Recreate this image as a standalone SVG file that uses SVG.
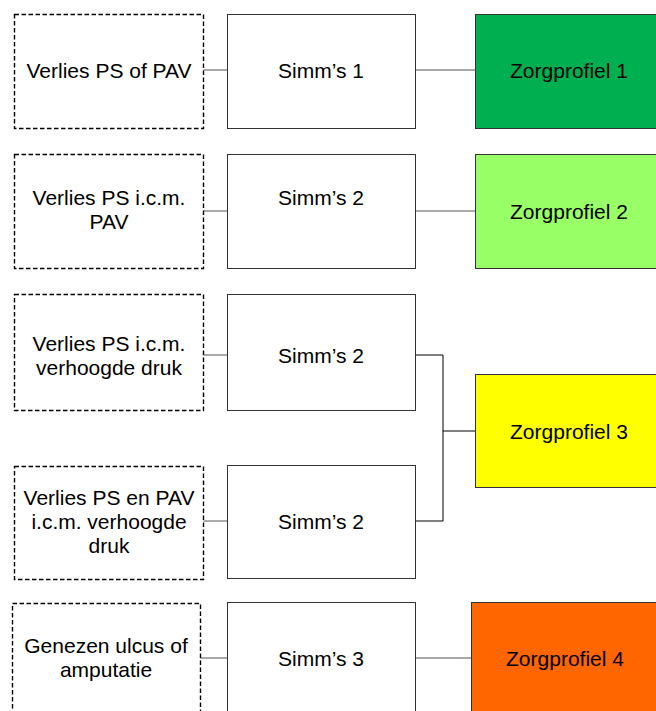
<svg xmlns="http://www.w3.org/2000/svg" width="656" height="711" viewBox="0 0 656 711">
<style>
.dash{fill:#fff;stroke:#000;stroke-width:1.4;stroke-dasharray:4.5,2.5}
.box{fill:#fff;stroke:#333;stroke-width:1}
.zp{stroke:#333;stroke-width:1}
.t{font-family:"Liberation Sans",Arial,sans-serif;font-size:21px;fill:#000;text-anchor:middle}
.c{fill:none;stroke:#555;stroke-width:1.2}
.c2{fill:none;stroke:#000;stroke-width:1}
</style>
<rect width="656" height="711" fill="#fff"/>
<g id="connectors">
<path class="c" d="M203 70H227M415 70H475"/>
<path class="c" d="M203 211H227M415 211H475"/>
<path class="c" d="M203 355H227M203 521H227"/>
<path class="c2" d="M415 355H443V521H415M443 431H475"/>
<path class="c" d="M200 658H227M415 658H471"/>
</g>
<g id="r1a"><rect class="dash" x="14.5" y="14.5" width="189" height="114"/><text class="t" x="109" y="77.5">Verlies PS of PAV</text></g>
<g id="r1b"><rect class="box" x="227.5" y="14.5" width="188" height="114"/><text class="t" x="321" y="77.5">Simm’s 1</text></g>
<g id="r1c"><rect class="zp" x="475.5" y="14.5" width="188" height="114" fill="#00B050"/><text class="t" x="569" y="77.5">Zorgprofiel 1</text></g>
<g id="r2a"><rect class="dash" x="14.5" y="154.5" width="189" height="114"/><text class="t" x="109" y="204.5">Verlies PS i.c.m.</text><text class="t" x="109" y="229">PAV</text></g>
<g id="r2b"><rect class="box" x="227.5" y="154.5" width="188" height="114"/><text class="t" x="321" y="204.5">Simm’s 2</text></g>
<g id="r2c"><rect class="zp" x="475.5" y="154.5" width="188" height="114" fill="#99FF66"/><text class="t" x="569" y="218.5">Zorgprofiel 2</text></g>
<g id="r3a"><rect class="dash" x="14.5" y="294.5" width="189" height="116"/><text class="t" x="109" y="350.5">Verlies PS i.c.m.</text><text class="t" x="109" y="375">verhoogde druk</text></g>
<g id="r3b"><rect class="box" x="227.5" y="294.5" width="188" height="116"/><text class="t" x="321" y="362.5">Simm’s 2</text></g>
<g id="r3c"><rect class="zp" x="475.5" y="374.5" width="188" height="113" fill="#FFFF00"/><text class="t" x="569" y="438.5">Zorgprofiel 3</text></g>
<g id="r4a"><rect class="dash" x="14.5" y="466.5" width="189" height="113"/><text class="t" x="109" y="504.5">Verlies PS en PAV</text><text class="t" x="109" y="529">i.c.m. verhoogde</text><text class="t" x="109" y="553">druk</text></g>
<g id="r4b"><rect class="box" x="227.5" y="465.5" width="188" height="113"/><text class="t" x="321" y="528.5">Simm’s 2</text></g>
<g id="r5a"><rect class="dash" x="12.5" y="603.5" width="188" height="120"/><text class="t" x="106" y="652.5">Genezen ulcus of</text><text class="t" x="106" y="677">amputatie</text></g>
<g id="r5b"><rect class="box" x="227.5" y="602.5" width="188" height="120"/><text class="t" x="321" y="665.5">Simm’s 3</text></g>
<g id="r5c"><rect class="zp" x="471.5" y="602.5" width="188" height="120" fill="#FF6600"/><text class="t" x="565" y="665.5">Zorgprofiel 4</text></g>
</svg>
